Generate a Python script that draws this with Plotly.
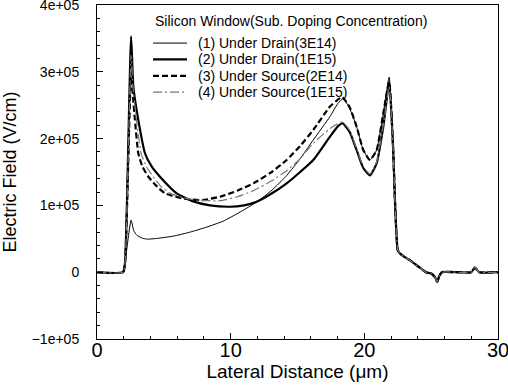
import plotly.graph_objects as go

# ---- data (x in um, E-field in V/cm) ----
x1 = [0, 1.95, 2.1, 2.55, 2.75, 3.0, 3.46, 3.8, 4.46, 5.71, 6.96, 8.2, 9.45, 10.7, 11.94, 13.1, 14.2,
      15.2, 16.18, 17.43, 18.0, 18.42, 18.9, 19.42, 19.92, 20.42, 20.92, 21.42, 21.86, 22.16, 22.29,
      22.5, 22.66, 23.0, 23.4, 24.2, 24.6, 25.0, 25.3, 25.45, 25.6, 25.8, 28.0, 28.27, 28.6, 30]
y1 = [0, 0, 15000, 78000, 62000, 55000, 50500, 49500, 50500, 54000, 60000, 67500, 76500, 90000, 105000,
      123000, 145000, 170000, 198000, 233000, 252000, 260000, 245000, 218000, 183000, 168000, 183000,
      238000, 292000, 183000, 108000, 33000, 28000, 23000, 18000, 6000, 0, -2000, -8000, -14500, -6000,
      0, 0, 7000, 0, 0]

x2 = [0, 1.95, 2.1, 2.55, 2.72, 3.09, 3.59, 4.1, 4.71, 5.96, 7.2, 8.45, 9.95, 11.0, 11.9, 13.0, 14.19,
      15.2, 16.18, 17.43, 18.0, 18.37, 18.9, 19.42, 19.92, 20.42, 20.92, 21.42, 21.86, 22.16, 22.29,
      22.5, 22.66, 23.0, 23.4, 24.2, 24.6, 25.0, 25.3, 25.45, 25.6, 25.8, 28.0, 28.27, 28.6, 30]
y2 = [0, 0, 15000, 353000, 278000, 228000, 178000, 158000, 143000, 118000, 106000, 100000, 98000, 100000,
      105000, 117000, 133000, 150000, 168000, 203000, 218000, 223000, 210000, 183000, 156000, 145000,
      163000, 218000, 284000, 183000, 108000, 33000, 28000, 23000, 18000, 6000, 0, -2000, -8000, -14500,
      -6000, 0, 0, 7000, 0, 0]

x3 = [0, 1.95, 2.1, 2.55, 2.7, 2.84, 3.09, 3.4, 3.84, 4.4, 5.09, 6.5, 7.9, 9.2, 10.5, 11.69, 13.0,
      14.19, 15.2, 16.18, 17.43, 18.0, 18.35, 18.9, 19.42, 19.92, 20.42, 20.92, 21.42, 21.86, 22.16,
      22.29, 22.5, 22.66, 23.0, 23.4, 24.2, 24.6, 25.0, 25.3, 25.45, 25.6, 25.8, 28.0, 28.27, 28.6, 30]
y3 = [0, 0, 15000, 300000, 260000, 228000, 178000, 158000, 143000, 130000, 118000, 110000, 108000,
      113000, 122000, 133000, 149000, 168000, 189000, 213000, 248000, 258000, 262000, 247000, 218000,
      183000, 168000, 183000, 238000, 285000, 183000, 108000, 33000, 28000, 23000, 18000, 6000, 0,
      -2000, -8000, -14500, -6000, 0, 0, 7000, 0, 0]

x4 = [0, 1.95, 2.1, 2.55, 2.7, 2.95, 3.3, 3.7, 4.2, 4.8, 5.5, 6.5, 7.5, 9.2, 10.5, 11.69, 13.0, 14.19,
      15.2, 16.18, 17.43, 18.0, 18.37, 18.9, 19.42, 19.92, 20.42, 20.92, 21.42, 21.86, 22.16, 22.29,
      22.5, 22.66, 23.0, 23.4, 24.2, 24.6, 25.0, 25.3, 25.45, 25.6, 25.8, 28.0, 28.27, 28.6, 30]
y4 = [0, 0, 15000, 325000, 275000, 228000, 178000, 158000, 143000, 128000, 118000, 111000, 108000,
      107000, 113000, 122000, 136000, 152000, 170000, 193000, 215000, 222000, 225000, 212000, 185000,
      158000, 147000, 165000, 220000, 278000, 183000, 108000, 33000, 28000, 23000, 18000, 6000, 0,
      -2000, -8000, -14500, -6000, 0, 0, 7000, 0, 0]

series_names = ["(1) Under Drain(3E14)", "(2) Under Drain(1E15)",
                "(3) Under Source(2E14)", "(4) Under Source(1E15)"]
legend_title = "Silicon Window(Sub. Doping Concentration)"

y_tickvals = [-100000, 0, 100000, 200000, 300000, 400000]
y_ticktext = ["\u22121e+05", "0", "1e+05", "2e+05", "3e+05", "4e+05"]
x_tickvals = [0, 10, 20, 30]

styles = [
    dict(color="black", width=1, dash="solid"),
    dict(color="black", width=2.2, dash="solid"),
    dict(color="black", width=2.2, dash="6px,3px"),
    dict(color="#777777", width=1.2, dash="9px,3px,2px,3px"),
]

fig = go.Figure()
for xs, ys, name, st in zip([x1, x2, x3, x4], [y1, y2, y3, y4], series_names, styles):
    fig.add_trace(go.Scatter(x=xs, y=ys, mode="lines", name=name, line=st,
                             line_shape="spline", line_smoothing=0.5, showlegend=False))

FONT = "Liberation Sans, Arial, Helvetica, sans-serif"

# manual legend (paper coordinates)
lx0, lx1, ltx = 0.1397, 0.2244, 0.2469
item_y = [0.886, 0.837, 0.788, 0.739]
fig.add_annotation(x=lx0, y=0.953, xref="paper", yref="paper", text=legend_title,
                   showarrow=False, xanchor="left", yanchor="middle",
                   font=dict(family=FONT, size=14, color="black"))
for yy, name, st in zip(item_y, series_names, styles):
    fig.add_shape(type="line", xref="paper", yref="paper", x0=lx0, x1=lx1, y0=yy, y1=yy,
                  line=st)
    fig.add_annotation(x=ltx, y=yy, xref="paper", yref="paper", text=name, showarrow=False,
                       xanchor="left", yanchor="middle",
                       font=dict(family=FONT, size=14, color="black"))

fig.update_layout(
    width=508, height=391,
    margin=dict(l=97, r=10, t=5, b=52, autoexpand=False),
    paper_bgcolor="white", plot_bgcolor="white",
    font=dict(family=FONT, color="black"),
    showlegend=False,
)
fig.update_xaxes(
    range=[0, 30.0001], tickvals=x_tickvals, ticks="inside", ticklen=6, tickcolor="black",
    minor=dict(dtick=2, ticks="inside", ticklen=3, tickcolor="black"),
    showline=True, linecolor="black", linewidth=1, mirror=True, showgrid=False, zeroline=False,
    tickfont=dict(size=20, family=FONT), ticklabelstandoff=-7, automargin=False,
    ticklabeloverflow="allow",
    title=dict(text="Lateral Distance (\u03bcm)", font=dict(size=19, family=FONT), standoff=0),
)
fig.update_yaxes(
    range=[-100000, 400001], tickvals=y_tickvals, ticktext=y_ticktext, ticks="inside",
    ticklen=6, tickcolor="black",
    minor=dict(dtick=20000, ticks="inside", ticklen=3, tickcolor="black"),
    showline=True, linecolor="black", linewidth=1, mirror=True, showgrid=False, zeroline=False,
    tickfont=dict(size=14, family=FONT), ticklabelstandoff=14, automargin=False,
    ticklabeloverflow="allow",
    title=dict(text="Electric Field (V/cm)", font=dict(size=18, family=FONT)),
)

fig.write_html("out.html", config={"displayModeBar": False},
               post_script="document.body.style.margin='0';")
